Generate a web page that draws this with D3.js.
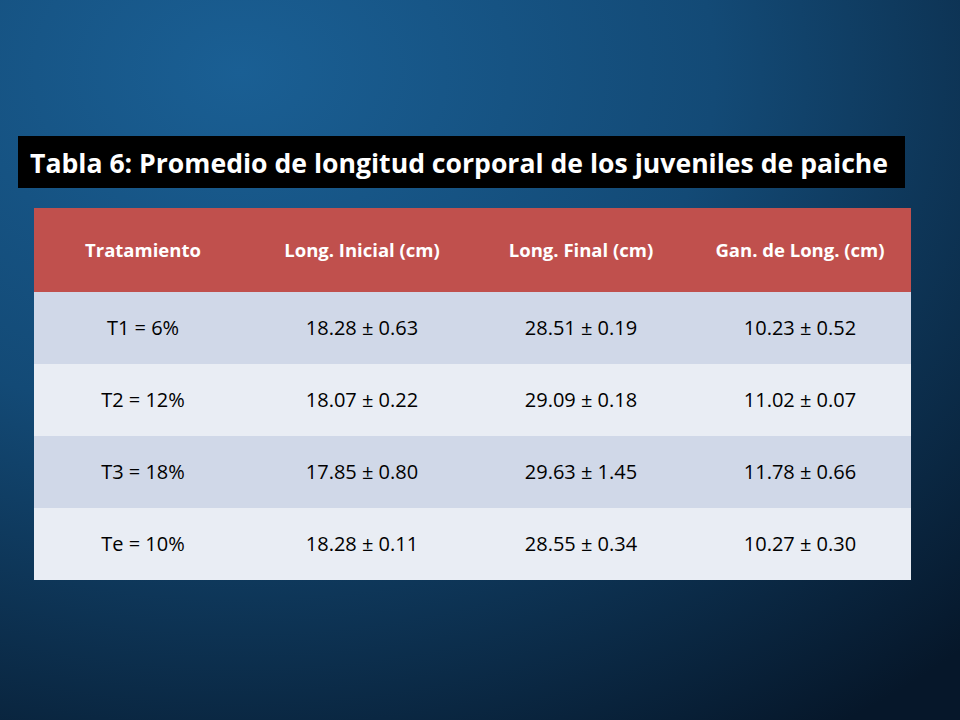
<!DOCTYPE html><html><head><meta charset="utf-8"><script src="https://cdn.jsdelivr.net/npm/d3@7"></script>
<style>body{margin:0;}svg{display:block}</style></head><body><svg id="c" width="960" height="720"></svg>
<script>
const title = "Tabla 6: Promedio de longitud corporal de los juveniles de paiche";
const headers = ["Tratamiento","Long. Inicial (cm)","Long. Final (cm)","Gan. de Long. (cm)"];
const treatments = ["T1 = 6%","T2 = 12%","T3 = 18%","Te = 10%"];
const inicial = ["18.28 ± 0.63","18.07 ± 0.22","17.85 ± 0.80","18.28 ± 0.11"];
const final_ = ["28.51 ± 0.19","29.09 ± 0.18","29.63 ± 1.45","28.55 ± 0.34"];
const ganancia = ["10.23 ± 0.52","11.02 ± 0.07","11.78 ± 0.66","10.27 ± 0.30"];
const rows = treatments.map((t,i)=>[t,inicial[i],final_[i],ganancia[i]]);
const svg = d3.select("#c");
const defs = svg.append("defs");
const g = defs.append("radialGradient").attr("id","bg").attr("cx","0.25").attr("cy","0.1").attr("r","1.1");
g.append("stop").attr("offset","0").attr("stop-color","#1a5f94");
g.append("stop").attr("offset","0.45").attr("stop-color","#134a76");
g.append("stop").attr("offset","1").attr("stop-color","#06172a");
svg.append("rect").attr("width",960).attr("height",720).attr("fill","url(#bg)");
svg.append("rect").attr("x",18).attr("y",136).attr("width",887).attr("height",52).attr("fill","#000");
svg.append("text").attr("x",30).attr("y",173).attr("fill","#fff").attr("font-family","Open Sans, sans-serif")
 .attr("font-weight","bold").attr("font-size",27).attr("textLength",858).attr("lengthAdjust","spacingAndGlyphs").text(title);
const cx = d3.scalePoint().domain(d3.range(4)).range([143,800]);
const font="Open Sans, sans-serif";
svg.append("rect").attr("x",34).attr("y",208).attr("width",877).attr("height",84).attr("fill","#c0504d");
svg.selectAll(".h").data(headers).join("text").attr("x",(d,i)=>cx(i)).attr("y",257).attr("text-anchor","middle")
 .attr("fill","#fff").attr("font-weight","bold").attr("font-family",font).attr("font-size",18.5).text(d=>d);
const ry = d3.scaleBand().domain(d3.range(rows.length)).range([292,580]);
const rg = svg.selectAll(".r").data(rows).join("g").attr("transform",(d,i)=>`translate(0,${ry(i)})`);
rg.append("rect").attr("x",34).attr("width",877).attr("height",ry.bandwidth()).attr("fill",(d,i)=>i%2?"#e9edf4":"#d0d8e8");
rg.selectAll("text").data(d=>d).join("text").attr("x",(d,i)=>cx(i)).attr("y",ry.bandwidth()/2+7).attr("text-anchor","middle")
 .attr("fill","#000").attr("font-family",font).attr("font-size",20).text(d=>d);
</script></body></html>
